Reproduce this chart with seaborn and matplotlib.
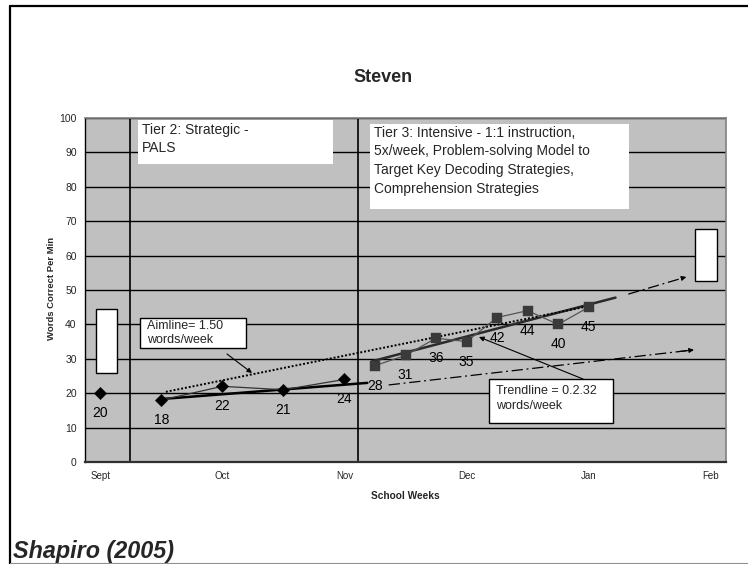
import numpy as np
import pandas as pd
import matplotlib
matplotlib.use("Agg")
import matplotlib.pyplot as plt
import matplotlib.transforms as mtransforms
from matplotlib.patches import Rectangle, FancyArrowPatch
from matplotlib.lines import Line2D
import seaborn as sns

# ---------------- data ----------------
baseline_weeks = [0, 2, 4, 6, 8]
baseline_wcpm = [20, 18, 22, 21, 24]
intervention_weeks = [9, 10, 11, 12, 13, 14, 15, 16]
intervention_wcpm = [28, 31, 36, 35, 42, 44, 40, 45]
month_positions = [0, 4, 8, 12, 16, 20]
month_labels = ["Sept", "Oct", "Nov", "Dec", "Jan", "Feb"]
n_weeks = 21
phase_lines = [0.97, 8.45]
aimline_x = [2.15, 15.95]
aimline_y = [20.4, 45.2]
baseline_trend_x = [2.0, 8.75]
baseline_trend_y = [18.3, 23.0]
baseline_proj_x = [9.45, 19.45]
baseline_proj_y = [22.4, 32.6]
trend_proj_x = [17.3, 19.2]
trend_proj_y = [48.8, 53.8]
trend_range = [8.9, 16.88]
sept_goal = [25.9, 44.5]
feb_goal = [52.5, 67.7]

W, H = 748, 564

sns.set_style("white")
plt.rcParams["font.family"] = ["Liberation Sans", "DejaVu Sans"]

fig = plt.figure(figsize=(W / 100, H / 100), dpi=100)
px = mtransforms.Affine2D().scale(1 / W, -1 / H).translate(0, 1) + fig.transFigure

ax = fig.add_axes([85 / W, 1 - 462 / H, 641 / W, 344 / H])
ax.set_facecolor("#C0C0C0")
ax.set_xlim(-0.5, n_weeks - 0.5)
ax.set_ylim(0, 100)

# grid & axes
ax.set_yticks(range(0, 101, 10))
ax.set_yticks(range(0, 101, 1), minor=True)
ax.grid(axis="y", which="major", color="black", lw=1.0, zorder=0)
ax.set_axisbelow(True)
ax.set_xticks(month_positions, month_labels)
ax.set_xticks(np.arange(-0.5, n_weeks, 1), minor=True)
ax.tick_params(axis="x", which="major", length=0, pad=6.5, labelsize=7)
ax.tick_params(axis="x", which="minor", length=4, direction="out", width=1, color="black")
ax.tick_params(axis="y", which="major", length=6, direction="inout", labelsize=7.5, pad=3, width=1)
ax.tick_params(axis="y", which="minor", length=3, direction="inout", width=0.7)
ax.spines["left"].set_color("black"); ax.spines["left"].set_linewidth(1.0)
ax.spines["bottom"].set_color("#303030"); ax.spines["bottom"].set_linewidth(1.6)
for s in ["top", "right"]:
    ax.spines[s].set_color("#808080"); ax.spines[s].set_linewidth(1.2)

for xv in phase_lines:
    ax.axvline(xv, color="black", lw=1.2, zorder=1)

# goal boxes
for xr, yr in [((-0.15, 0.55), sept_goal), ((19.5, 20.22), feb_goal)]:
    ax.add_patch(Rectangle((xr[0], yr[0]), xr[1] - xr[0], yr[1] - yr[0],
                           facecolor="white", edgecolor="black", lw=1.0, zorder=3))

# trend lines
ax.plot(baseline_trend_x, baseline_trend_y, color="black", lw=1.8, zorder=3)
coef = np.polyfit(intervention_weeks, intervention_wcpm, 1)
tx = np.array(trend_range)
ax.plot(tx, np.polyval(coef, tx), color="#2a2a2a", lw=1.8, zorder=3)
ax.plot(aimline_x, aimline_y, color="black", lw=1.4, ls=(0, (1, 1)), zorder=3)
for xs, ys in [(baseline_proj_x, baseline_proj_y), (trend_proj_x, trend_proj_y)]:
    ax.plot(xs, ys, color="black", lw=0.9, ls=(0, (9, 3, 1.5, 3)), zorder=3)
    ax.annotate("", xy=(xs[1], ys[1]),
                xytext=(xs[1] - 0.05 * (xs[1] - xs[0]), ys[1] - 0.05 * (ys[1] - ys[0])),
                arrowprops=dict(arrowstyle="-|>", color="black", lw=0.8, mutation_scale=7,
                                shrinkA=0, shrinkB=0), zorder=3)

# data series
sns.lineplot(x=baseline_weeks[1:], y=baseline_wcpm[1:], color="#333333", lw=0.9,
             estimator=None, ax=ax, zorder=4)
sns.lineplot(x=intervention_weeks, y=intervention_wcpm, color="#555555", lw=0.9,
             estimator=None, ax=ax, zorder=4)
sns.scatterplot(x=baseline_weeks, y=baseline_wcpm, marker="D", s=40, color="black",
                edgecolor="black", linewidth=0.3, ax=ax, zorder=5)
sns.scatterplot(x=intervention_weeks, y=intervention_wcpm, marker="s", s=62, color="#3a3a3a",
                edgecolor="#3a3a3a", linewidth=0.3, ax=ax, zorder=5)
ax.set_xlabel(""); ax.set_ylabel("")

for xv, yv in list(zip(baseline_weeks, baseline_wcpm)) + list(zip(intervention_weeks, intervention_wcpm)):
    ax.annotate(str(yv), (xv, yv), xytext=(0, -20), textcoords="offset pixels",
                ha="center", va="center", fontsize=10, color="black", zorder=6)

# text boxes (pixel layout)
def box(x0, y0, x1, y1, edge):
    fig.add_artist(Rectangle((x0, y1), x1 - x0, y0 - y1, transform=px, facecolor="white",
                             edgecolor="black" if edge else "none", lw=1.0, zorder=6))

def lines(x, ys, texts, size):
    for yy, t in zip(ys, texts):
        fig.text(x, yy, t, transform=px, ha="left", va="center", fontsize=size, zorder=7)

box(138, 120, 333, 164, False)
lines(142, [130, 148], ["Tier 2: Strategic -", "PALS"], 10)
box(370, 124, 629, 209, False)
lines(374, [133, 151.5, 170, 188.5],
      ["Tier 3: Intensive - 1:1 instruction,", "5x/week, Problem-solving Model to",
       "Target Key Decoding Strategies,", "Comprehension Strategies"], 10)
box(140, 318, 246, 348, True)
lines(147, [326, 340], ["Aimline= 1.50", "words/week"], 9)
box(489, 379, 613, 423, True)
lines(496, [391, 406], ["Trendline = 0.2.32", "words/week"], 9)

for (x0, y0), (x1, y1) in [((227, 354), (252, 373)), ((583, 379), (479, 337))]:
    fig.add_artist(FancyArrowPatch((x0, y0), (x1, y1), transform=px,
                   arrowstyle="-|>", mutation_scale=7, color="black", lw=0.8,
                   shrinkA=0, shrinkB=0, zorder=8))

# titles
fig.text(383, 78, "Steven", transform=px, ha="center", va="center", fontsize=13, fontweight="bold")
fig.text(52, 288, "Words Correct Per Min", transform=px, ha="center", va="center",
         rotation=90, fontsize=6.8, fontweight="bold")
fig.text(405, 496, "School Weeks", transform=px, ha="center", va="center", fontsize=7.3, fontweight="bold")
fig.text(13, 558, "Shapiro (2005)", transform=px, ha="left", va="baseline", fontsize=16.8,
         fontweight="bold", style="italic")

# slide frame
fig.add_artist(Line2D([10, 10], [6, 564], transform=px, color="black", lw=1.6))
fig.add_artist(Line2D([10, 748], [6, 6], transform=px, color="black", lw=1.6))
fig.add_artist(Line2D([10, 748], [563, 563], transform=px, color="#909090", lw=0.8))

fig.savefig("out.png", dpi=100)
